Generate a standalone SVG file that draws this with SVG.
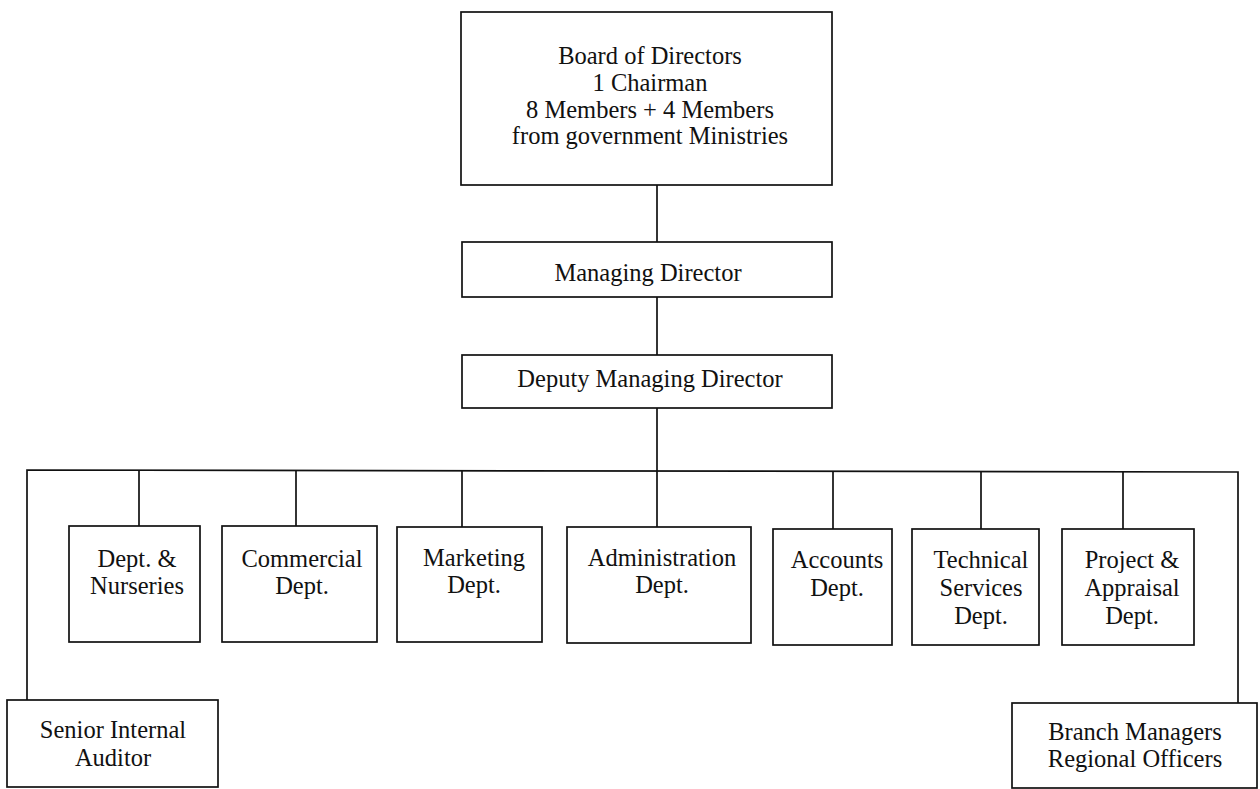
<svg xmlns="http://www.w3.org/2000/svg" width="1260" height="789" viewBox="0 0 1260 789">
  <style>
    .box { fill: #ffffff; stroke: #111111; stroke-width: 1.7; }
    .wire { fill: none; stroke: #111111; stroke-width: 1.7; }
    .lbl { font-family: "Liberation Serif", "Times New Roman", serif; font-size: 24.5px; fill: #111111; text-anchor: middle; }
  </style>
  <rect width="1260" height="789" fill="#ffffff"/>

  <!-- reporting lines -->
  <g id="connectors">
    <line class="wire" x1="657" y1="185" x2="657" y2="242"/>
    <line class="wire" x1="657" y1="297" x2="657" y2="355"/>
    <line class="wire" x1="657" y1="408" x2="657" y2="527"/>
    <polyline class="wire" points="27,700 27,470 1238,472 1238,703"/>
    <line class="wire" x1="139" y1="470" x2="139" y2="526"/>
    <line class="wire" x1="296" y1="470" x2="296" y2="526"/>
    <line class="wire" x1="462" y1="471" x2="462" y2="527"/>
    <line class="wire" x1="833" y1="471" x2="833" y2="529"/>
    <line class="wire" x1="981" y1="472" x2="981" y2="529"/>
    <line class="wire" x1="1123" y1="472" x2="1123" y2="529"/>
  </g>

  <g id="board">
    <rect class="box" x="461" y="12" width="371" height="173"/>
    <text class="lbl" x="650" y="64">Board of Directors</text>
    <text class="lbl" x="650" y="91">1 Chairman</text>
    <text class="lbl" x="650" y="118">8 Members + 4 Members</text>
    <text class="lbl" x="650" y="144">from government Ministries</text>
  </g>

  <g id="managing-director">
    <rect class="box" x="462" y="242" width="370" height="55"/>
    <text class="lbl" x="648" y="281">Managing Director</text>
  </g>

  <g id="deputy-managing-director">
    <rect class="box" x="462" y="355" width="370" height="53"/>
    <text class="lbl" x="650" y="387">Deputy Managing Director</text>
  </g>

  <g id="nurseries">
    <rect class="box" x="69" y="526" width="131" height="116"/>
    <text class="lbl" x="137" y="567">Dept. &amp;</text>
    <text class="lbl" x="137" y="594">Nurseries</text>
  </g>

  <g id="commercial">
    <rect class="box" x="222" y="526" width="155" height="116"/>
    <text class="lbl" x="302" y="567">Commercial</text>
    <text class="lbl" x="302" y="594">Dept.</text>
  </g>

  <g id="marketing">
    <rect class="box" x="397" y="527" width="145" height="115"/>
    <text class="lbl" x="474" y="566">Marketing</text>
    <text class="lbl" x="474" y="593">Dept.</text>
  </g>

  <g id="administration">
    <rect class="box" x="567" y="527" width="184" height="116"/>
    <text class="lbl" x="662" y="566">Administration</text>
    <text class="lbl" x="662" y="593">Dept.</text>
  </g>

  <g id="accounts">
    <rect class="box" x="773" y="529" width="119" height="116"/>
    <text class="lbl" x="837" y="568">Accounts</text>
    <text class="lbl" x="837" y="596">Dept.</text>
  </g>

  <g id="technical-services">
    <rect class="box" x="912" y="529" width="127" height="116"/>
    <text class="lbl" x="981" y="568">Technical</text>
    <text class="lbl" x="981" y="596">Services</text>
    <text class="lbl" x="981" y="624">Dept.</text>
  </g>

  <g id="project-appraisal">
    <rect class="box" x="1062" y="529" width="132" height="116"/>
    <text class="lbl" x="1132" y="568">Project &amp;</text>
    <text class="lbl" x="1132" y="596">Appraisal</text>
    <text class="lbl" x="1132" y="624">Dept.</text>
  </g>

  <g id="internal-auditor">
    <rect class="box" x="7" y="700" width="211" height="87"/>
    <text class="lbl" x="113" y="738">Senior Internal</text>
    <text class="lbl" x="113" y="766">Auditor</text>
  </g>

  <g id="branch-managers">
    <rect class="box" x="1012" y="703" width="245" height="85"/>
    <text class="lbl" x="1135" y="740">Branch Managers</text>
    <text class="lbl" x="1135" y="767">Regional Officers</text>
  </g>
</svg>
